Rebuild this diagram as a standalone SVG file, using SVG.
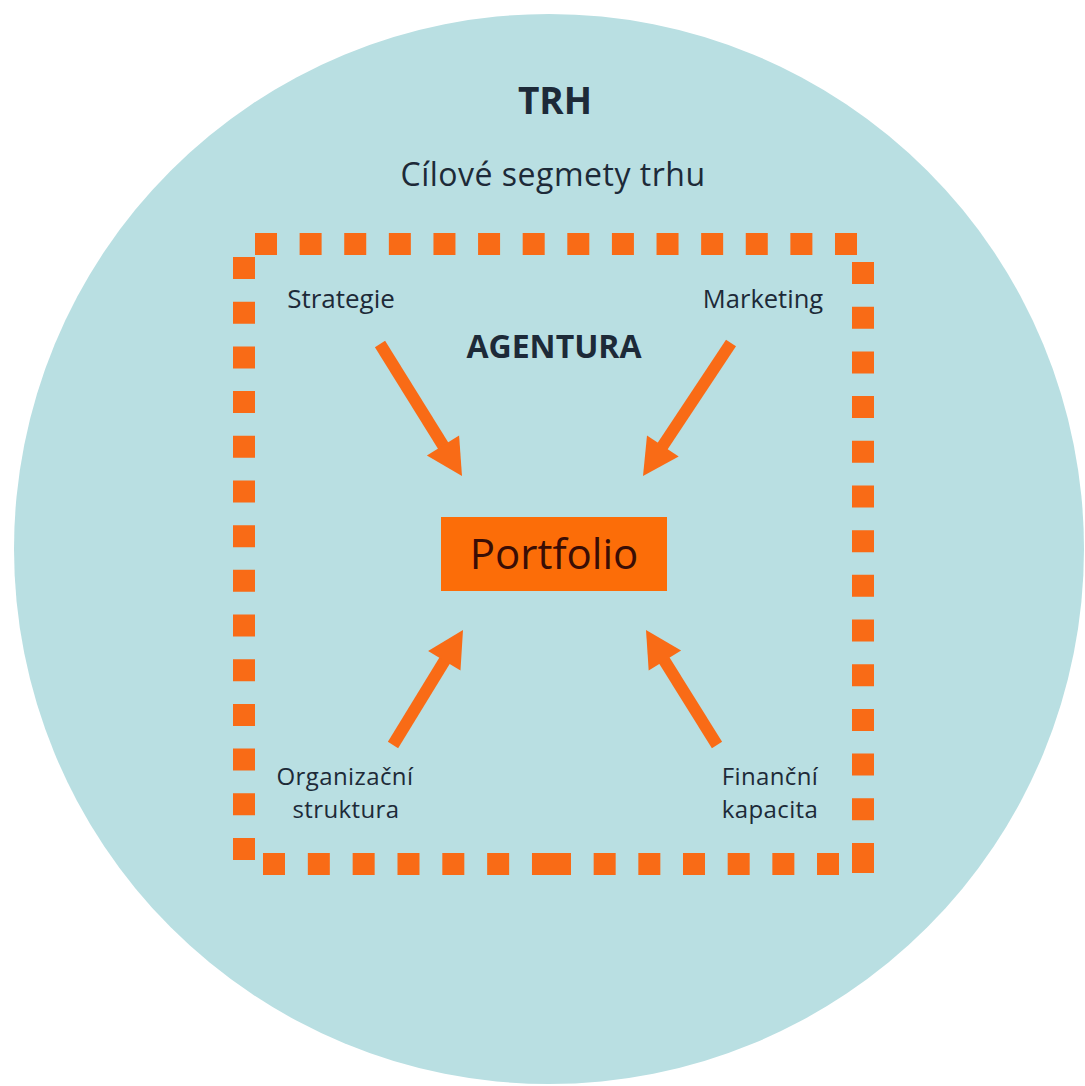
<svg xmlns="http://www.w3.org/2000/svg" width="1085" height="1086" viewBox="0 0 1085 1086">
<defs>
<style>
.lbl{font-family:"Open Sans","Liberation Sans",sans-serif;fill:#1d2a38;}
.dash{fill:none;stroke:#f96b16;stroke-width:22;}
.arr{stroke:#f96b16;stroke-width:12;fill:none;}
.head{fill:#f96b16;}
</style>
</defs>
<rect width="1085" height="1086" fill="#ffffff"/>
<g id="market">
<circle cx="549" cy="549" r="535" fill="#b9dfe2"/>
<text class="lbl" x="555" y="114" font-size="37" font-weight="bold" text-anchor="middle">TRH</text>
<text class="lbl" x="553" y="186" font-size="32" letter-spacing="0.5" text-anchor="middle">Cílové segmety trhu</text>
</g>
<g id="agentura">
<path class="dash" d="M255,244 H857" stroke-dasharray="22 22.615"/>
<path class="dash" d="M244,257 V860" stroke-dasharray="22 22.69"/>
<path class="dash" d="M863,262 V865" stroke-dasharray="22 22.69"/>
<rect x="852" y="843" width="22" height="30" fill="#f96b16"/>
<path class="dash" d="M263,864 H554" stroke-dasharray="22 22.83"/>
<path class="dash" d="M549,864 H839" stroke-dasharray="22 22.67"/>
<text class="lbl" x="554" y="358" font-size="32" font-weight="bold" text-anchor="middle">AGENTURA</text>
</g>
<g id="strategie"><text class="lbl" x="341" y="308" font-size="26" text-anchor="middle">Strategie</text></g>
<g id="marketing"><text class="lbl" x="763" y="308" font-size="25.5" text-anchor="middle">Marketing</text></g>
<g id="organizacni"><text class="lbl" x="345" y="785" font-size="24" letter-spacing="0.4" text-anchor="middle">Organizační</text><text class="lbl" x="346" y="818" font-size="24" letter-spacing="0.4" text-anchor="middle">struktura</text></g>
<g id="financni"><text class="lbl" x="770" y="785" font-size="24" letter-spacing="0.4" text-anchor="middle">Finanční</text><text class="lbl" x="770" y="818" font-size="24" letter-spacing="0.4" text-anchor="middle">kapacita</text></g>
<g id="portfolio">
<rect x="441" y="517" width="226" height="74" fill="#fc6d08"/>
<text x="554" y="569" font-size="42" text-anchor="middle" font-family="Open Sans, Liberation Sans, sans-serif" fill="#3a0d05">Portfolio</text>
</g>
<g id="connectors">
<line class="arr" x1="380" y1="344" x2="444" y2="447"/>
<polygon class="head" points="462,476 426.9,455.4 459.1,435.4"/>
<line class="arr" x1="731" y1="343" x2="662" y2="447"/>
<polygon class="head" points="643,476 647,435.5 678.7,456.5"/>
<line class="arr" x1="393" y1="745" x2="445" y2="660"/>
<polygon class="head" points="463,630 460.5,670.6 428.1,650.9"/>
<line class="arr" x1="717" y1="745" x2="664" y2="660"/>
<polygon class="head" points="646,630 681.1,650.6 648.7,670.6"/>
</g>
</svg>
